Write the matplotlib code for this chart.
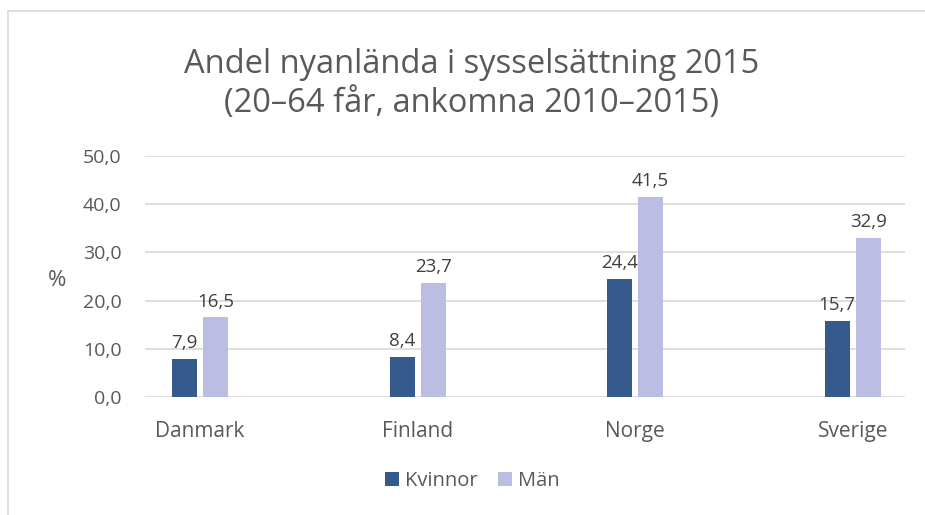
import matplotlib
matplotlib.use("Agg")
import matplotlib.pyplot as plt
import numpy as np
from matplotlib.patches import Rectangle

plt.rcParams["font.family"] = ["Open Sans", "DejaVu Sans"]

countries = ["Danmark", "Finland", "Norge", "Sverige"]
kvinnor = [7.9, 8.4, 24.4, 15.7]
man = [16.5, 23.7, 41.5, 32.9]
series_names = ["Kvinnor", "Män"]
yticks = [0, 10, 20, 30, 40, 50]

DARK = "#375a8c"
LIGHT = "#bbbde3"
TXT = "#595959"
GRID = "#d9d9d9"

fig = plt.figure(figsize=(9.25, 5.15), dpi=100)
ax = fig.add_axes([145 / 925, 1 - 397 / 515, (905 - 145) / 925, (397 - 156) / 515])

# chart frame (cut off to the right and bottom in the reference)
fig.patches.append(Rectangle((8 / 925, -0.05), 1.1, 1 - 11 / 515 + 0.05,
                             transform=fig.transFigure, fill=False,
                             edgecolor=GRID, lw=1.2))

x = np.arange(len(countries))
w = 0.115
off = 0.071
b1 = ax.bar(x - off, kvinnor, w, color=DARK, label=series_names[0], zorder=3)
b2 = ax.bar(x + off, man, w, color=LIGHT, label=series_names[1], zorder=3)

fmt = lambda v: f"{v:.1f}".replace(".", ",")
for bars, vals in [(b1, kvinnor), (b2, man)]:
    for b, v in zip(bars, vals):
        ax.annotate(fmt(v), (b.get_x() + b.get_width() / 2, v),
                    xytext=(0, 5), textcoords="offset points",
                    ha="center", va="bottom", fontsize=13.5, color="#404040")

ax.set_xlim(-0.253, 3.24)
ax.set_ylim(0, 50)
ax.set_yticks(yticks)
ax.set_yticklabels([fmt(v) for v in yticks], fontsize=14, color=TXT)
ax.set_xticks(x)
ax.set_xticklabels(countries, fontsize=15, color=TXT)
ax.tick_params(length=0)
ax.tick_params(axis="y", pad=17)
ax.tick_params(axis="x", pad=17)
ax.grid(axis="y", color=GRID, lw=1.2, zorder=0)
for s in ax.spines.values():
    s.set_visible(False)

fig.text(57 / 925, 1 - 280 / 515, "%", fontsize=16, color=TXT,
         ha="center", va="center")
fig.text(472 / 925, 1 - 84 / 515,
         "Andel nyanlända i sysselsättning 2015\n(20–64 får, ankomna 2010–2015)",
         ha="center", va="center", fontsize=23.5, color=TXT, linespacing=1.25)

fig.legend(handles=[b1, b2], loc="center", bbox_to_anchor=(472 / 925, 1 - 481 / 515),
           ncol=2, frameon=False, fontsize=14.5, labelcolor=TXT,
           handlelength=0.7, handleheight=0.7, handletextpad=0.3, columnspacing=1.0)

fig.savefig("out.png", dpi=100)
